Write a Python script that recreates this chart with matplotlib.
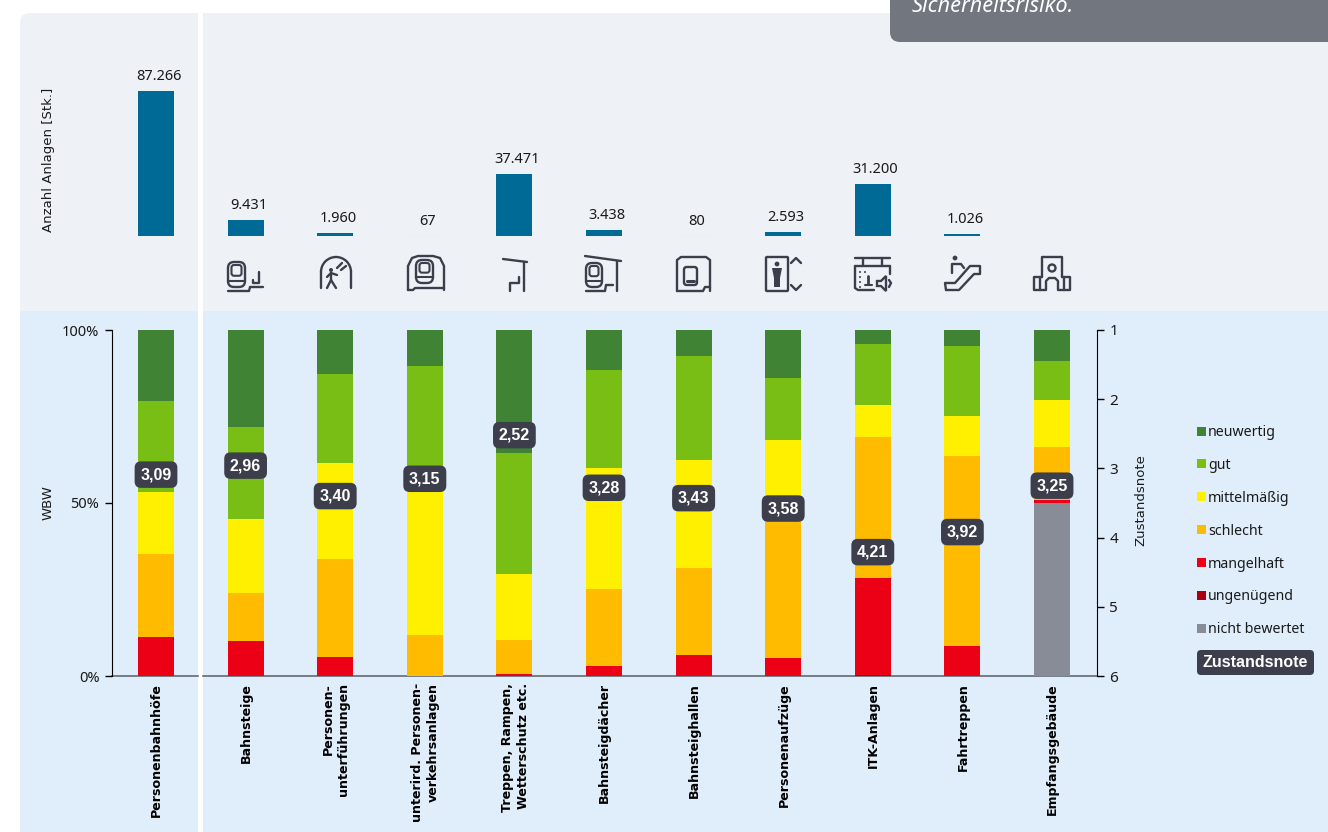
import matplotlib
matplotlib.use("Agg")
import matplotlib.pyplot as plt
from matplotlib.patches import Arc, Circle, FancyBboxPatch, Polygon, Rectangle

plt.rcParams["font.family"] = ["Noto Sans", "DejaVu Sans"]

categories = ["Personenbahnhöfe", "Bahnsteige", "Personen-\nunterführungen",
              "unterird. Personen-\nverkehrsanlagen", "Treppen, Rampen,\nWetterschutz etc.",
              "Bahnsteigdächer", "Bahnsteighallen", "Personenaufzüge", "ITK-Anlagen",
              "Fahrtreppen", "Empfangsgebäude"]
anzahl = [87266, 9431, 1960, 67, 37471, 3438, 80, 2593, 31200, 1026, None]
note = [3.09, 2.96, 3.40, 3.15, 2.52, 3.28, 3.43, 3.58, 4.21, 3.92, 3.25]

nicht_bewertet = [0, 0, 0, 0, 0, 0, 0, 0, 0, 0, 50.0]
ungenuegend = [0, 0, 0, 0, 0, 0, 0, 0, 0.3, 0, 0]
mangelhaft = [11.3, 10.1, 5.6, 0, 0.7, 2.8, 6.1, 5.1, 28.0, 8.8, 1.0]
schlecht = [24.0, 13.9, 28.3, 11.8, 9.7, 22.3, 25.0, 42.0, 40.8, 54.9, 15.3]
mittelmaessig = [18.0, 21.4, 27.8, 42.7, 19.0, 35.0, 31.3, 21.0, 9.3, 11.4, 13.6]
gut = [26.2, 26.6, 25.7, 35.1, 35.1, 28.2, 30.1, 18.0, 17.6, 20.3, 11.1]
neuwertig = [20.5, 28.0, 12.6, 10.4, 35.5, 11.7, 7.5, 13.9, 4.0, 4.6, 9.0]

# von unten nach oben gestapelt
stapel = [(nicht_bewertet, "#878C96"), (ungenuegend, "#A9000F"), (mangelhaft, "#EC0016"),
          (schlecht, "#FFBB00"), (mittelmaessig, "#FFF000"), (gut, "#78BE14"), (neuwertig, "#408335")]
legende = [("neuwertig", "#408335"), ("gut", "#78BE14"), ("mittelmäßig", "#FFF000"),
           ("schlecht", "#FFBB00"), ("mangelhaft", "#EC0016"), ("ungenügend", "#A9000F"),
           ("nicht bewertet", "#878C96")]

W, H = 1328, 832
DUNKEL = "#3C3F4B"
fig = plt.figure(figsize=(W / 100, H / 100), dpi=100, facecolor="white")


def px_axes(left, top, right, bottom):
    return fig.add_axes([left / W, 1 - bottom / H, (right - left) / W, (bottom - top) / H])


# Hintergrund in Pixelkoordinaten
bg = fig.add_axes([0, 0, 1, 1], zorder=0)
bg.set_xlim(0, W)
bg.set_ylim(H, 0)
bg.axis("off")
bg.add_patch(FancyBboxPatch((20, 13), 1400, 400, boxstyle="round,pad=0,rounding_size=10",
                            fc="#EEF2F6", ec="none"))
bg.add_patch(Rectangle((20, 311), 1400, 530, fc="#E0EDFA", ec="none"))
bg.add_patch(Rectangle((198, 13), 5, 830, fc="white", ec="none"))
bg.add_patch(FancyBboxPatch((890, -30), 500, 72, boxstyle="round,pad=0,rounding_size=10",
                            fc="#71767F", ec="none"))
bg.text(912, 12.5, "Sicherheitsrisiko.", color="white", style="italic", fontsize=15.7, va="baseline")
bg.plot([112, 198], [676, 676], color="#646973", lw=1.2, zorder=1)
bg.plot([203, 1097], [676, 676], color="#646973", lw=1.2, zorder=1)


def line(*pts, lw=1.7):
    bg.plot([p[0] for p in pts], [p[1] for p in pts], color=DUNKEL, lw=lw,
            solid_capstyle="round", solid_joinstyle="round")


def box(x0, y0, x1, y1, r=3, lw=1.7):
    bg.add_patch(FancyBboxPatch((x0, y0), x1 - x0, y1 - y0, boxstyle=f"round,pad=0,rounding_size={r}",
                                fc="none", ec=DUNKEL, lw=lw))


def train(x0, y0, x1, y1):
    box(x0, y0, x1, y1, r=6)
    box(x0 + 3.5, y0 + 3, x1 - 3.5, y0 + (y1 - y0) * 0.55, r=2.5, lw=1.5)
    line((x0 + 1, y0 + (y1 - y0) * 0.75), (x1 - 1, y0 + (y1 - y0) * 0.75), lw=1.5)


# Piktogramme
train(228, 262, 245, 287)
line((228, 291), (249, 291), (250, 287), (263, 287))
line((259, 272), (259, 283), (253, 283), (253, 280))

bg.add_patch(Arc((336, 272), 30, 30, theta1=180, theta2=360, ec=DUNKEL, lw=1.7))
line((321, 272), (321, 288))
line((351, 272), (351, 288))
bg.add_patch(Circle((331, 270), 2, fc=DUNKEL, ec="none"))
line((331, 273), (331, 280), (327, 288))
line((331, 280), (336, 288))
line((327, 277), (331, 273), (337, 275))
line((337, 268), (342, 263))
line((341, 270), (346, 266))

line((408, 290), (408, 266), (412, 258), (418, 256), (433, 256), (440, 258), (444, 266), (444, 290))
line((408, 290), (413, 290), (415, 288), (444, 288))
train(416, 260, 433, 283)

line((503, 259), (527, 262))
line((524, 262), (524, 291))
line((510, 291), (510, 283), (519, 283), (519, 277))

line((585, 256), (621, 261))
line((617, 261), (617, 291))
train(586, 263, 602, 287)
line((586, 291), (605, 291), (606, 285), (613, 285))

line((677, 291), (677, 260), (681, 257), (706, 257), (710, 260), (710, 291))
line((677, 291), (703, 291), (705, 287), (710, 287))
box(684, 267, 697, 285, r=2.5)
line((687, 281), (694, 281), lw=2.2)

box(766, 257, 788, 291, r=1)
bg.add_patch(Circle((777, 264), 2.4, fc=DUNKEL, ec="none"))
bg.add_patch(Polygon([(772, 268), (782, 268), (780, 278), (780, 287), (774, 287), (774, 278)], fc=DUNKEL, ec="none"))
line((791, 263), (796, 258), (801, 263))
line((791, 285), (796, 290), (801, 285))

line((855, 258), (890, 258))
line((863, 258), (863, 266))
line((882, 258), (882, 266))
line((855, 266), (890, 266))
line((890, 266), (890, 274))
line((855, 266), (855, 288), (858, 290), (874, 290))
for dx, dy in [(860, 272), (860, 277), (860, 282), (865, 272), (860, 287)]:
    bg.add_patch(Circle((dx, dy), 1, fc=DUNKEL, ec="none"))
line((868, 276), (868, 284), lw=2)
line((865, 285), (872, 285), lw=1.5)
bg.add_patch(Polygon([(877, 281), (881, 281), (886, 276), (886, 291), (881, 286), (877, 286)], fc="none", ec=DUNKEL, lw=1.7))
line((889, 280), (891, 283), (889, 287))

bg.add_patch(Circle((955, 258), 2.4, fc=DUNKEL, ec="none"))
line((952, 273), (952, 264), (961, 264), (964, 268))
line((946, 290), (945, 283), (955, 283), (970, 266), (980, 266), (980, 274), (974, 274), (959, 290), (946, 290))

line((1042, 277), (1042, 257), (1062, 257), (1062, 277))
bg.add_patch(Circle((1052, 268), 3.5, fc="none", ec=DUNKEL, lw=1.7))
line((1042, 277), (1034, 277), (1034, 290), (1046, 290), (1046, 281), (1049, 278), (1055, 278),
     (1058, 281), (1058, 290), (1070, 290), (1070, 277), (1062, 277))
line((1040, 277), (1040, 290))
line((1064, 277), (1064, 290))

# x-Bereich so, dass Balkenmitten bei 156 + 89,6 * i liegen
x_links = (112 - 156) / 89.6
x_rechts = (1097 - 156) / 89.6
x = list(range(len(categories)))

# oben: Anzahl Anlagen
top = px_axes(112, 91, 1097, 236)
top.patch.set_alpha(0)
top.set_xlim(x_links, x_rechts)
top.set_ylim(0, 87266)
top.axis("off")
for i, v in zip(x, anzahl):
    if v is None:
        continue
    # winzige Balken erscheinen im Original nur als helle Linie
    if v < 100:
        top.bar(i, v, width=0.4, color="#006A96", ec="#B4CCDC", lw=0.8)
    else:
        top.bar(i, v, width=0.4, color="#006A96")
    top.annotate(f"{v:,}".replace(",", "."), (i, v), xytext=(2, 5), textcoords="offset points",
                 ha="center", va="bottom", fontsize=10.5, color="#1A1A1A")
bg.text(49, 160, "Anzahl Anlagen [Stk.]", rotation=90, ha="center", va="center",
        fontsize=9.5, family="DejaVu Sans", color="#1A1A1A")

# unten: WBW gestapelt
ax = px_axes(112, 330, 1097, 676)
ax.patch.set_alpha(0)
ax.set_xlim(x_links, x_rechts)
ax.set_ylim(0, 100)
unten = [0] * len(x)
for werte, farbe in stapel:
    ax.bar(x, werte, bottom=unten, width=0.4, color=farbe)
    unten = [u + w for u, w in zip(unten, werte)]
ax.set_yticks([0, 50, 100], ["0%", "50%", "100%"], fontsize=10.5, color="#1A1A1A")
ax.set_xticks([])
for s in ["top", "right", "bottom"]:
    ax.spines[s].set_visible(False)
ax.tick_params(axis="y", length=5, width=1, pad=4)
bg.text(48, 503, "WBW", rotation=90, ha="center", va="center", fontsize=9.5,
        family="DejaVu Sans", color="#1A1A1A")

for i, name in zip(x, categories):
    ax.annotate(name, (i, 0), xytext=(0.5, -5), textcoords="offset points", rotation=90,
                ha="center", va="top", multialignment="right", fontsize=9.1, fontweight="bold",
                family="DejaVu Sans", color="black", linespacing=1.3)

# rechte Achse: Zustandsnote
ax2 = ax.twinx()
ax2.set_zorder(ax.get_zorder() + 1)
ax2.set_ylim(6, 1)
ax2.set_yticks([1, 2, 3, 4, 5, 6])
ax2.tick_params(axis="y", length=5, width=1, pad=4, labelsize=11, labelcolor="#1A1A1A")
for s in ["top", "left", "bottom"]:
    ax2.spines[s].set_visible(False)
bg.text(1141, 500, "Zustandsnote", rotation=90, ha="center", va="center", fontsize=9.5,
        family="DejaVu Sans", color="#1A1A1A")

for i, v in zip(x, note):
    ax2.text(i, v, f"{v:.2f}".replace(".", ","), ha="center", va="center", color="white",
             fontsize=11.5, fontweight="bold", family="Liberation Sans",
             bbox=dict(boxstyle="round,pad=0.36,rounding_size=0.4", fc=DUNKEL, ec="none"))

# Legende
for k, (name, farbe) in enumerate(legende):
    y = 431 + k * 32.9
    bg.add_patch(Rectangle((1197, y - 4.5), 8.5, 9, fc=farbe, ec="none"))
    bg.text(1208, y + 1.5, name, va="center", ha="left", fontsize=10.2, color="#1A1A1A")
bg.add_patch(FancyBboxPatch((1197, 650), 117, 25, boxstyle="round,pad=0,rounding_size=4",
                            fc=DUNKEL, ec="none", zorder=3))
bg.text(1255.5, 662.5, "Zustandsnote", ha="center", va="center", color="white", fontsize=11.5,
        fontweight="bold", family="Liberation Sans", zorder=4)

fig.savefig("out.png", dpi=100, facecolor="white")
